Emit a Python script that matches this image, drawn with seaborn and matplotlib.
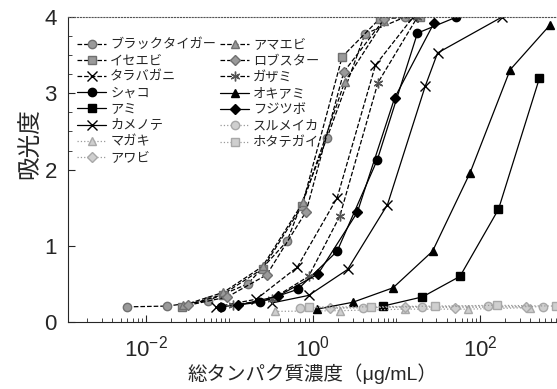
import numpy as np
import pandas as pd
import seaborn as sns
import matplotlib.pyplot as plt
from matplotlib.ticker import LogLocator, FixedLocator, NullFormatter

# concentration (ug/mL) and absorbance
black_tiger_x = [0.006, 0.018, 0.055, 0.166, 0.49, 1.48, 4.2, 12.6]
black_tiger_y = [0.20, 0.21, 0.28, 0.50, 1.06, 2.42, 3.78, 4.00]
ise_ebi_x = [0.027, 0.083, 0.25, 0.74, 2.24, 6.3, 19.0]
ise_ebi_y = [0.20, 0.36, 0.70, 1.52, 3.48, 3.98, 4.00]
taraba_x = [0.07, 0.21, 0.65, 1.95, 5.6, 15.8]
taraba_y = [0.20, 0.30, 0.72, 1.63, 3.37, 4.00]
shako_x = [0.08, 0.23, 0.66, 1.95, 5.9, 17.8, 52.0]
shako_y = [0.20, 0.26, 0.43, 0.93, 2.13, 3.79, 4.00]
ami_x = [6.9, 20.4, 57.5, 166.0, 513.0]
ami_y = [0.21, 0.33, 0.60, 1.48, 3.20]
kamenote_x = [0.32, 0.89, 2.6, 7.8, 22.0, 31.0, 182.0]
kamenote_y = [0.25, 0.35, 0.69, 1.54, 3.09, 3.53, 4.00]
magaki_x = [0.35, 2.1, 12.6, 72.0, 400.0]
magaki_y = [0.14, 0.15, 0.17, 0.17, 0.19]
awabi_x = [1.6, 12.6, 50.0, 355.0]
awabi_y = [0.18, 0.20, 0.19, 0.20]
ama_ebi_x = [0.028, 0.085, 0.25, 0.76, 2.4, 7.1]
ama_ebi_y = [0.22, 0.39, 0.73, 1.57, 3.15, 3.95]
lobster_x = [0.032, 0.095, 0.28, 0.83, 2.34, 7.1]
lobster_y = [0.22, 0.33, 0.62, 1.45, 3.28, 3.97]
gazami_x = [0.11, 0.32, 0.89, 2.1, 6.0, 17.8]
gazami_y = [0.22, 0.30, 0.60, 1.39, 3.14, 4.00]
okiami_x = [1.12, 3.0, 9.1, 27.0, 76.0, 229.0, 690.0]
okiami_y = [0.17, 0.26, 0.45, 0.93, 1.96, 3.31, 3.90]
fujitsubo_x = [0.126, 0.38, 1.15, 3.4, 9.5, 28.0]
fujitsubo_y = [0.22, 0.34, 0.63, 1.44, 2.94, 3.92]
surumeika_x = [0.7, 4.0, 20.0, 126.0, 560.0]
surumeika_y = [0.19, 0.19, 0.20, 0.21, 0.20]
hotate_x = [0.9, 5.0, 29.0, 158.0, 800.0]
hotate_y = [0.20, 0.20, 0.21, 0.22, 0.21]

gray = dict(color='black', mfc='#9a9a9a', mec='#707070', ls='--')
solid = dict(color='black', mfc='black', mec='black', ls='-')
light = dict(color='#9a9a9a', mfc='#cfcfcf', mec='#a8a8a8', ls=':')

series = [
    ('ブラックタイガー', black_tiger_x, black_tiger_y, 'o', gray),
    ('イセエビ', ise_ebi_x, ise_ebi_y, 's', gray),
    ('タラバガニ', taraba_x, taraba_y, 'x', dict(color='black', mfc='black', mec='black', ls='--')),
    ('シャコ', shako_x, shako_y, 'o', solid),
    ('アミ', ami_x, ami_y, 's', solid),
    ('カメノテ', kamenote_x, kamenote_y, 'x', solid),
    ('マガキ', magaki_x, magaki_y, '^', light),
    ('アワビ', awabi_x, awabi_y, 'D', light),
    ('アマエビ', ama_ebi_x, ama_ebi_y, '^', gray),
    ('ロブスター', lobster_x, lobster_y, 'D', gray),
    ('ガザミ', gazami_x, gazami_y, (6, 2, 0), dict(color='black', mfc='black', mec='#555555', ls='--')),
    ('オキアミ', okiami_x, okiami_y, '^', solid),
    ('フジツボ', fujitsubo_x, fujitsubo_y, 'D', solid),
    ('スルメイカ', surumeika_x, surumeika_y, 'o', light),
    ('ホタテガイ', hotate_x, hotate_y, 's', light),
]

sns.set_style('ticks')
plt.rcParams['font.family'] = ['Liberation Sans', 'Noto Sans CJK JP', 'DejaVu Sans']
plt.rcParams['mathtext.fontset'] = 'custom'
plt.rcParams['mathtext.rm'] = 'Liberation Sans'

fig = plt.figure(figsize=(5.57, 3.89), dpi=100)
ax = fig.add_axes([0.122, 0.172, 0.878, 0.784])

for name, xs, ys, mk, st in series:
    df = pd.DataFrame({'x': xs, 'y': ys})
    ms = 7 if mk in ('x', (6, 2, 0)) else 6
    if mk == 'D':
        ms = 5
    sns.lineplot(data=df, x='x', y='y', ax=ax, marker=mk, markersize=ms,
                 color=st['color'], linestyle=st['ls'], linewidth=0.9,
                 markerfacecolor=st['mfc'], markeredgecolor=st['mec'],
                 markeredgewidth=1, label=name)

ax.set_xscale('log')
ax.set_xlim(10 ** -2.93, 10 ** 2.92)
ax.set_ylim(0, 4)
ax.xaxis.set_major_locator(FixedLocator([1e-2, 1e0, 1e2]))
ax.xaxis.set_minor_locator(LogLocator(base=10, subs=np.arange(1, 10), numticks=20))
ax.xaxis.set_minor_formatter(NullFormatter())
ax.set_yticks([0, 1, 2, 3, 4])
ax.yaxis.set_minor_locator(FixedLocator([2.25, 2.5, 2.75, 3.25, 3.5, 3.75]))
ax.tick_params(which='both', direction='in', labelsize=16)
ax.tick_params(which='major', length=5)
ax.tick_params(which='minor', length=3)
ax.tick_params(axis='x', pad=10)
ax.tick_params(axis='y', pad=8)

ax.spines['right'].set_visible(False)
ax.spines['top'].set_linestyle(':')
ax.spines['top'].set_color('#555555')

ax.set_xlabel('総タンパク質濃度（μg/mL）', fontsize=14, labelpad=1)
ax.set_ylabel('')
fig.text(0.055, 0.63, '吸光度', rotation=90, fontsize=17, ha='center', va='center')

leg = ax.legend(ncol=2, loc='upper left', bbox_to_anchor=(0.0, 0.96), frameon=False,
                fontsize=9.5, handlelength=2.2, handletextpad=0.3,
                columnspacing=0.3, labelspacing=0.3, borderaxespad=0.3)

fig.savefig('out.png', dpi=100)
